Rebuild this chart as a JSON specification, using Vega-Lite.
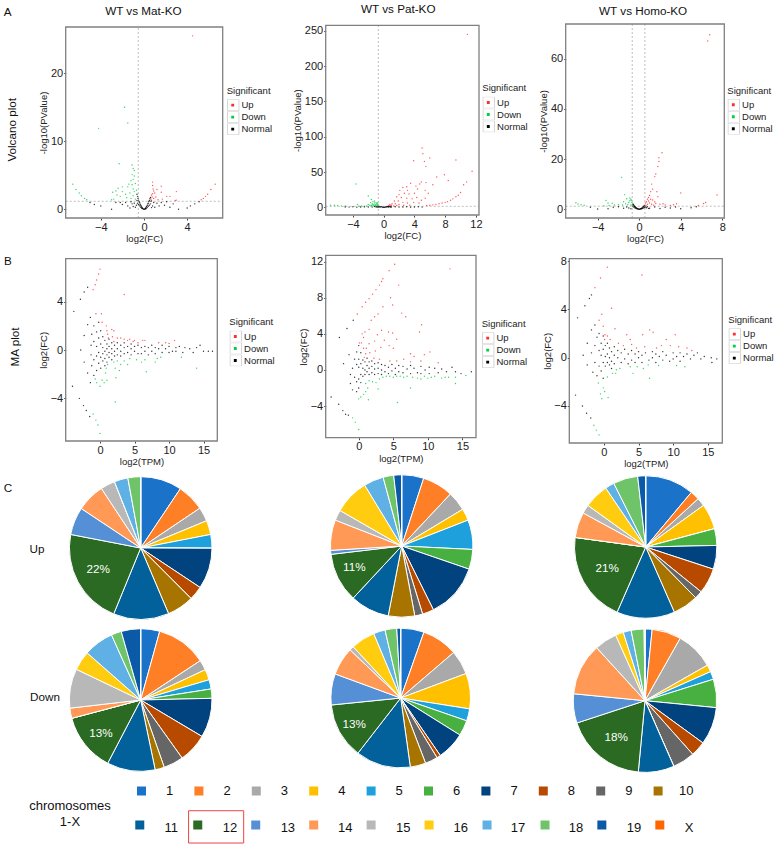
{"$schema":"https://vega.github.io/schema/vega-lite/v6.json","width":775,"height":848,"autosize":"none","padding":0,"background":"white",
"config":{"view":{"stroke":null},"range":{"category":["#1a73c9","#ff7f27","#a9a9a9","#ffc000","#1ea0dd","#47b040","#00437e","#b84a00","#666666","#a77400","#02619a","#2a6a22","#5590d6","#ff9955","#b8b8b8","#ffcc0f","#5eb0e5","#6fc46a","#0a5aa8","#ff6600"]},
"axis":{"grid":false,"domain":false,"tickColor":"#444","tickSize":2,"labelFont":"Liberation Sans","labelFontSize":11,"labelColor":"#222","titleFont":"Liberation Sans","titleFontSize":9.5,"titleFontWeight":"normal","titleColor":"#222","labelPadding":1,"titlePadding":1.5,"labelOverlap":false,"labelFlush":false},
"legend":{"titleFont":"Liberation Sans","labelFont":"Liberation Sans","titleFontSize":9.5,"labelFontSize":9.5,"titleFontWeight":"normal","titleColor":"#222","labelColor":"#222","rowPadding":0,"clipHeight":11.6,"labelOffset":2.8,"titlePadding":4,"orient":"none"},
"text":{"font":"Liberation Sans","fontSize":11.7,"color":"#111","baseline":"middle","align":"center"}},
"datasets":{"keys":[{"k":"k1"},{"k":"k2"},{"k":"k3"}],
"v1":[{"x":4.5,"y":25.5,"s":"Up"},{"x":6.6,"y":3.7,"s":"Up"},{"x":6.2,"y":2.9,"s":"Up"},{"x":5.9,"y":2.2,"s":"Up"},{"x":5.7,"y":1.9,"s":"Up"},{"x":5.5,"y":1.6,"s":"Up"},{"x":5.3,"y":1.4,"s":"Up"},{"x":3,"y":2.6,"s":"Up"},{"x":2.9,"y":1.3,"s":"Up"},{"x":2.4,"y":1.9,"s":"Up"},{"x":2.1,"y":1.9,"s":"Up"},{"x":1.6,"y":3.4,"s":"Up"},{"x":1.6,"y":2.5,"s":"Up"},{"x":1.2,"y":2.9,"s":"Up"},{"x":1.1,"y":1.8,"s":"Up"},{"x":0.8,"y":4,"s":"Up"},{"x":0.8,"y":3.5,"s":"Up"},{"x":0.85,"y":3,"s":"Up"},{"x":0.9,"y":2.7,"s":"Up"},{"x":0.8,"y":2.3,"s":"Up"},{"x":0.7,"y":2.1,"s":"Up"},{"x":0.75,"y":1.8,"s":"Up"},{"x":0.65,"y":1.5,"s":"Up"},{"x":1,"y":2.4,"s":"Up"},{"x":0.9,"y":1.6,"s":"Up"},{"x":1.3,"y":1.4,"s":"Up"},{"x":1.7,"y":1.5,"s":"Up"},{"x":3,"y":1.35,"s":"Up"},{"x":0.7,"y":1.3,"s":"Up"},
{"x":-1.8,"y":15,"s":"Down"},{"x":-1.5,"y":12.7,"s":"Down"},{"x":-4.2,"y":11.9,"s":"Down"},{"x":-2.3,"y":6.7,"s":"Down"},{"x":-1.1,"y":6.5,"s":"Down"},{"x":-1,"y":6,"s":"Down"},{"x":-0.9,"y":5.7,"s":"Down"},{"x":-1.1,"y":5.1,"s":"Down"},{"x":-0.9,"y":4.9,"s":"Down"},{"x":-1,"y":4.4,"s":"Down"},{"x":-1.2,"y":4.2,"s":"Down"},{"x":-0.8,"y":3.8,"s":"Down"},{"x":-1.4,"y":3.7,"s":"Down"},{"x":-1.5,"y":3.3,"s":"Down"},{"x":-1.1,"y":3.6,"s":"Down"},{"x":-2,"y":3.3,"s":"Down"},{"x":-2.4,"y":3.1,"s":"Down"},{"x":-2.6,"y":2.7,"s":"Down"},{"x":-2.5,"y":2.1,"s":"Down"},{"x":-2.9,"y":2.5,"s":"Down"},{"x":-2,"y":2.6,"s":"Down"},{"x":-1.7,"y":2.2,"s":"Down"},{"x":-1.3,"y":2.4,"s":"Down"},{"x":-0.9,"y":2.6,"s":"Down"},{"x":-1,"y":3,"s":"Down"},{"x":-0.7,"y":2.8,"s":"Down"},{"x":-1.6,"y":1.7,"s":"Down"},{"x":-2.2,"y":1.9,"s":"Down"},{"x":-2.8,"y":1.5,"s":"Down"},{"x":-3,"y":1.4,"s":"Down"},{"x":-1.2,"y":1.6,"s":"Down"},{"x":-0.8,"y":1.5,"s":"Down"},{"x":-1,"y":2,"s":"Down"},{"x":-6.6,"y":3.7,"s":"Down"},{"x":-6.3,"y":2.9,"s":"Down"},{"x":-6,"y":2.4,"s":"Down"},{"x":-5.8,"y":2,"s":"Down"},{"x":-5.5,"y":1.6,"s":"Down"},{"x":-5.3,"y":1.4,"s":"Down"},
{"x":-5,"y":1,"s":"Normal"},{"x":-4.6,"y":0.7,"s":"Normal"},{"x":-4,"y":0.5,"s":"Normal"},{"x":-3,"y":0,"s":"Normal"},{"x":-2.6,"y":1,"s":"Normal"},{"x":-2.2,"y":1,"s":"Normal"},{"x":-2,"y":0.7,"s":"Normal"},{"x":-1.7,"y":1,"s":"Normal"},{"x":-1.5,"y":0.5,"s":"Normal"},{"x":-1.2,"y":1.1,"s":"Normal"},{"x":-1,"y":0.4,"s":"Normal"},{"x":-0.9,"y":0.9,"s":"Normal"},{"x":-0.8,"y":0.3,"s":"Normal"},{"x":-1.3,"y":0.2,"s":"Normal"},{"x":-1.1,"y":0.8,"s":"Normal"},{"x":-0.7,"y":0.6,"s":"Normal"},{"x":1,"y":0.3,"s":"Normal"},{"x":1.2,"y":0.9,"s":"Normal"},{"x":1.4,"y":0.5,"s":"Normal"},{"x":1.6,"y":1,"s":"Normal"},{"x":1.9,"y":0.6,"s":"Normal"},{"x":2.1,"y":1.1,"s":"Normal"},{"x":2.4,"y":0.3,"s":"Normal"},{"x":2.7,"y":0.8,"s":"Normal"},{"x":3.2,"y":0,"s":"Normal"},{"x":4,"y":0.2,"s":"Normal"},{"x":4.3,"y":0.5,"s":"Normal"},{"x":4.7,"y":0.8,"s":"Normal"},{"x":5.1,"y":1.1,"s":"Normal"},{"x":0.8,"y":0.5,"s":"Normal"},{"x":0.9,"y":1,"s":"Normal"},{"x":0.7,"y":0.25,"s":"Normal"},
{"x":-0.05,"y":0.03,"s":"Normal"},{"x":-0.1,"y":0.1,"s":"Normal"},{"x":-0.15,"y":0.2,"s":"Normal"},{"x":-0.2,"y":0.3,"s":"Normal"},{"x":-0.25,"y":0.45,"s":"Normal"},{"x":-0.3,"y":0.6,"s":"Normal"},{"x":-0.35,"y":0.75,"s":"Normal"},{"x":-0.4,"y":0.95,"s":"Normal"},{"x":-0.45,"y":1.1,"s":"Normal"},{"x":-0.5,"y":1.35,"s":"Normal"},{"x":-0.55,"y":1.6,"s":"Normal"},{"x":-0.6,"y":1.9,"s":"Normal"},{"x":-0.65,"y":2.2,"s":"Normal"},{"x":-0.15,"y":0.1,"s":"Normal"},{"x":-0.2,"y":0.15,"s":"Normal"},{"x":-0.3,"y":0.3,"s":"Normal"},{"x":-0.4,"y":0.5,"s":"Normal"},{"x":-0.5,"y":0.7,"s":"Normal"},{"x":-0.6,"y":0.9,"s":"Normal"},{"x":-0.65,"y":1.3,"s":"Normal"},{"x":0.05,"y":0.02,"s":"Normal"},{"x":0.1,"y":0.08,"s":"Normal"},{"x":0.15,"y":0.2,"s":"Normal"},{"x":0.2,"y":0.32,"s":"Normal"},{"x":0.25,"y":0.4,"s":"Normal"},{"x":0.3,"y":0.6,"s":"Normal"},{"x":0.35,"y":0.8,"s":"Normal"},{"x":0.4,"y":0.9,"s":"Normal"},{"x":0.45,"y":1.15,"s":"Normal"},{"x":0.5,"y":1.3,"s":"Normal"},{"x":0.55,"y":1.55,"s":"Normal"},{"x":0.6,"y":1.75,"s":"Normal"},{"x":0.65,"y":1.2,"s":"Normal"},{"x":0.15,"y":0.08,"s":"Normal"},{"x":0.2,"y":0.12,"s":"Normal"},{"x":0.3,"y":0.25,"s":"Normal"},{"x":0.4,"y":0.45,"s":"Normal"},{"x":0.5,"y":0.6,"s":"Normal"},{"x":0.6,"y":0.8,"s":"Normal"},{"x":0,"y":0,"s":"Normal"}],
"v2":[{"x":10.9,"y":245,"s":"Up"},{"x":11.5,"y":51,"s":"Up"},{"x":9.4,"y":67,"s":"Up"},{"x":6,"y":70,"s":"Up"},{"x":5.1,"y":76,"s":"Up"},{"x":5,"y":84,"s":"Up"},{"x":5.3,"y":65,"s":"Up"},{"x":5.5,"y":58,"s":"Up"},{"x":3.9,"y":66,"s":"Up"},{"x":6.9,"y":43,"s":"Up"},{"x":7.9,"y":46,"s":"Up"},{"x":8.4,"y":38,"s":"Up"},{"x":10.8,"y":36,"s":"Up"},{"x":10.4,"y":32,"s":"Up"},{"x":10,"y":21,"s":"Up"},{"x":9.7,"y":17,"s":"Up"},{"x":9.4,"y":15,"s":"Up"},{"x":9,"y":12,"s":"Up"},{"x":8.7,"y":10,"s":"Up"},{"x":8.3,"y":8,"s":"Up"},{"x":8,"y":7,"s":"Up"},{"x":7.6,"y":6,"s":"Up"},{"x":7.2,"y":5,"s":"Up"},{"x":6.8,"y":4,"s":"Up"},{"x":6.4,"y":3.5,"s":"Up"},{"x":6,"y":3,"s":"Up"},{"x":5.6,"y":2.5,"s":"Up"},{"x":4.9,"y":36,"s":"Up"},{"x":5.5,"y":35,"s":"Up"},{"x":4.7,"y":33,"s":"Up"},{"x":3.5,"y":34,"s":"Up"},{"x":4.2,"y":30,"s":"Up"},{"x":3,"y":29,"s":"Up"},{"x":2.5,"y":28,"s":"Up"},{"x":2.1,"y":24,"s":"Up"},{"x":3.1,"y":24,"s":"Up"},{"x":4.4,"y":26,"s":"Up"},{"x":5.4,"y":24,"s":"Up"},{"x":5.8,"y":20,"s":"Up"},{"x":6.4,"y":32,"s":"Up"},{"x":4,"y":20,"s":"Up"},{"x":3.3,"y":19,"s":"Up"},{"x":2.7,"y":20,"s":"Up"},{"x":2,"y":18,"s":"Up"},{"x":1.7,"y":15,"s":"Up"},{"x":2.3,"y":14,"s":"Up"},{"x":3,"y":13,"s":"Up"},{"x":3.7,"y":12,"s":"Up"},{"x":4.3,"y":14,"s":"Up"},{"x":4.9,"y":10,"s":"Up"},{"x":5.4,"y":13,"s":"Up"},{"x":1.4,"y":9,"s":"Up"},{"x":1.9,"y":9,"s":"Up"},{"x":2.5,"y":7,"s":"Up"},{"x":3.1,"y":6,"s":"Up"},{"x":3.9,"y":7,"s":"Up"},{"x":4.6,"y":6,"s":"Up"},{"x":1.1,"y":5,"s":"Up"},{"x":1.5,"y":5,"s":"Up"},{"x":2,"y":4,"s":"Up"},{"x":2.6,"y":3,"s":"Up"},{"x":3.4,"y":3,"s":"Up"},{"x":1,"y":3,"s":"Up"},{"x":0.9,"y":2,"s":"Up"},{"x":0.7,"y":2.5,"s":"Up"},{"x":0.6,"y":1.5,"s":"Up"},{"x":1.3,"y":2,"s":"Up"},{"x":1.7,"y":2.5,"s":"Up"},{"x":0.8,"y":4,"s":"Up"},
{"x":-3.6,"y":33,"s":"Down"},{"x":-2,"y":16,"s":"Down"},{"x":-1.6,"y":11,"s":"Down"},{"x":-1.4,"y":8,"s":"Down"},{"x":-1.7,"y":7,"s":"Down"},{"x":-1.2,"y":6,"s":"Down"},{"x":-1.5,"y":5,"s":"Down"},{"x":-1.1,"y":4,"s":"Down"},{"x":-0.9,"y":5,"s":"Down"},{"x":-1.3,"y":3,"s":"Down"},{"x":-0.8,"y":3,"s":"Down"},{"x":-1,"y":2,"s":"Down"},{"x":-1.8,"y":3,"s":"Down"},{"x":-2.2,"y":2,"s":"Down"},{"x":-0.7,"y":2,"s":"Down"},{"x":-3.4,"y":4,"s":"Down"},{"x":-2.9,"y":2,"s":"Down"},{"x":-3.2,"y":1.5,"s":"Down"},{"x":-2.5,"y":1.5,"s":"Down"},{"x":-6.9,"y":3,"s":"Down"},{"x":-6.4,"y":3,"s":"Down"},{"x":-6,"y":2.5,"s":"Down"},{"x":-5.5,"y":2,"s":"Down"},{"x":-5,"y":2,"s":"Down"},{"x":-1.5,"y":1.8,"s":"Down"},{"x":-2,"y":4,"s":"Down"},{"x":-1.2,"y":9,"s":"Down"},{"x":-1,"y":7,"s":"Down"},{"x":-0.8,"y":6,"s":"Down"},{"x":-1.4,"y":4,"s":"Down"},{"x":-1.1,"y":2.5,"s":"Down"},{"x":-0.9,"y":3.5,"s":"Down"},{"x":-1.6,"y":2.5,"s":"Down"},{"x":-0.75,"y":4,"s":"Down"},
{"x":-5,"y":0.5,"s":"Normal"},{"x":-4.5,"y":0.3,"s":"Normal"},{"x":-4,"y":0.8,"s":"Normal"},{"x":-3.5,"y":0.2,"s":"Normal"},{"x":-3,"y":0.4,"s":"Normal"},{"x":-2.5,"y":0.6,"s":"Normal"},{"x":-2,"y":0.5,"s":"Normal"},{"x":-1.5,"y":0.3,"s":"Normal"},{"x":-1,"y":0.6,"s":"Normal"},{"x":-0.7,"y":0.8,"s":"Normal"},{"x":-0.4,"y":0.5,"s":"Normal"},{"x":-0.2,"y":0.3,"s":"Normal"},{"x":0,"y":0.1,"s":"Normal"},{"x":0.2,"y":0.2,"s":"Normal"},{"x":0.3,"y":0.8,"s":"Normal"},{"x":0.4,"y":0.5,"s":"Normal"},{"x":0.5,"y":1,"s":"Normal"},{"x":0.6,"y":0.4,"s":"Normal"},{"x":0.1,"y":0.05,"s":"Normal"},{"x":-0.1,"y":0.1,"s":"Normal"},{"x":-0.3,"y":1,"s":"Normal"},{"x":-0.5,"y":1.2,"s":"Normal"},{"x":0.55,"y":1.3,"s":"Normal"},{"x":1,"y":0.5,"s":"Normal"},{"x":1.5,"y":0.8,"s":"Normal"},{"x":2,"y":0.3,"s":"Normal"},{"x":2.5,"y":0.4,"s":"Normal"},{"x":3,"y":0.7,"s":"Normal"},{"x":3.5,"y":0.2,"s":"Normal"},{"x":4,"y":0.5,"s":"Normal"},{"x":4.5,"y":0.8,"s":"Normal"},{"x":5,"y":0.3,"s":"Normal"},{"x":-0.6,"y":0.2,"s":"Normal"},{"x":-0.8,"y":0.3,"s":"Normal"},{"x":0.7,"y":0.7,"s":"Normal"},{"x":0.8,"y":1.1,"s":"Normal"},{"x":0.9,"y":0.4,"s":"Normal"},{"x":-0.9,"y":0.9,"s":"Normal"},{"x":-1.2,"y":1.1,"s":"Normal"}],
"v3":[{"x":6.8,"y":69.5,"s":"Up"},{"x":6.6,"y":67,"s":"Up"},{"x":2.2,"y":22.5,"s":"Up"},{"x":1.9,"y":20.5,"s":"Up"},{"x":1.9,"y":19,"s":"Up"},{"x":1.8,"y":17,"s":"Up"},{"x":1.6,"y":14,"s":"Up"},{"x":1.5,"y":13,"s":"Up"},{"x":1.2,"y":10,"s":"Up"},{"x":1.3,"y":8,"s":"Up"},{"x":1.1,"y":7,"s":"Up"},{"x":1.7,"y":7,"s":"Up"},{"x":4,"y":6.5,"s":"Up"},{"x":7.5,"y":5.7,"s":"Up"},{"x":1.8,"y":5,"s":"Up"},{"x":1,"y":5.5,"s":"Up"},{"x":0.9,"y":4.7,"s":"Up"},{"x":1.1,"y":4,"s":"Up"},{"x":0.8,"y":4,"s":"Up"},{"x":0.9,"y":3.3,"s":"Up"},{"x":1.3,"y":3.7,"s":"Up"},{"x":1.5,"y":3,"s":"Up"},{"x":0.7,"y":3,"s":"Up"},{"x":1,"y":2.5,"s":"Up"},{"x":1.2,"y":2,"s":"Up"},{"x":0.6,"y":2.5,"s":"Up"},{"x":0.8,"y":2,"s":"Up"},{"x":1.6,"y":2.3,"s":"Up"},{"x":2,"y":2,"s":"Up"},{"x":2.3,"y":2.2,"s":"Up"},{"x":2.5,"y":1.7,"s":"Up"},{"x":3.6,"y":2.2,"s":"Up"},{"x":3.3,"y":1.8,"s":"Up"},{"x":3,"y":1.5,"s":"Up"},{"x":1.4,"y":1.6,"s":"Up"},{"x":6.4,"y":2.7,"s":"Up"},{"x":6.2,"y":2.3,"s":"Up"},{"x":5.7,"y":1.5,"s":"Up"},{"x":0.65,"y":1.5,"s":"Up"},
{"x":-1.7,"y":12.7,"s":"Down"},{"x":-1.4,"y":5.8,"s":"Down"},{"x":-0.9,"y":4.5,"s":"Down"},{"x":-0.8,"y":4,"s":"Down"},{"x":-0.9,"y":3.4,"s":"Down"},{"x":-0.75,"y":3.6,"s":"Down"},{"x":-1.2,"y":4.2,"s":"Down"},{"x":-1.5,"y":3,"s":"Down"},{"x":-1,"y":2.7,"s":"Down"},{"x":-1.3,"y":2.2,"s":"Down"},{"x":-0.7,"y":2.7,"s":"Down"},{"x":-1.1,"y":1.8,"s":"Down"},{"x":-1.6,"y":1.7,"s":"Down"},{"x":-2,"y":1.8,"s":"Down"},{"x":-3.2,"y":3.5,"s":"Down"},{"x":-3,"y":2.5,"s":"Down"},{"x":-2.6,"y":2.4,"s":"Down"},{"x":-2.4,"y":1.7,"s":"Down"},{"x":-6.1,"y":2.6,"s":"Down"},{"x":-5.9,"y":2.1,"s":"Down"},{"x":-5.6,"y":1.8,"s":"Down"},{"x":-5.3,"y":1.6,"s":"Down"},{"x":-0.8,"y":1.7,"s":"Down"},{"x":-0.65,"y":1.6,"s":"Down"},{"x":-2.9,"y":1.5,"s":"Down"},{"x":-3.4,"y":1.4,"s":"Down"},
{"x":-4.7,"y":0.8,"s":"Normal"},{"x":-4,"y":0.1,"s":"Normal"},{"x":-3,"y":0.2,"s":"Normal"},{"x":-2.5,"y":0.8,"s":"Normal"},{"x":-2,"y":1,"s":"Normal"},{"x":-1.5,"y":0.4,"s":"Normal"},{"x":-1.2,"y":0.9,"s":"Normal"},{"x":-1,"y":0.5,"s":"Normal"},{"x":-0.8,"y":0.2,"s":"Normal"},{"x":1,"y":0.4,"s":"Normal"},{"x":1.5,"y":0.9,"s":"Normal"},{"x":2,"y":0.3,"s":"Normal"},{"x":2.5,"y":0.8,"s":"Normal"},{"x":3,"y":0.5,"s":"Normal"},{"x":3.5,"y":0.9,"s":"Normal"},{"x":4,"y":0.2,"s":"Normal"},{"x":5,"y":0.6,"s":"Normal"},{"x":5.5,"y":1,"s":"Normal"},{"x":0,"y":0,"s":"Normal"},{"x":-0.05,"y":0.05,"s":"Normal"},{"x":-0.1,"y":0.12,"s":"Normal"},{"x":-0.15,"y":0.2,"s":"Normal"},{"x":-0.2,"y":0.3,"s":"Normal"},{"x":-0.25,"y":0.45,"s":"Normal"},{"x":-0.3,"y":0.6,"s":"Normal"},{"x":-0.35,"y":0.8,"s":"Normal"},{"x":-0.4,"y":1,"s":"Normal"},{"x":-0.45,"y":1.2,"s":"Normal"},{"x":-0.5,"y":1.5,"s":"Normal"},{"x":-0.55,"y":1.8,"s":"Normal"},{"x":-0.6,"y":2.1,"s":"Normal"},{"x":-0.2,"y":0.15,"s":"Normal"},{"x":-0.3,"y":0.3,"s":"Normal"},{"x":-0.4,"y":0.5,"s":"Normal"},{"x":-0.5,"y":0.8,"s":"Normal"},{"x":-0.6,"y":1.1,"s":"Normal"},{"x":0.05,"y":0.04,"s":"Normal"},{"x":0.1,"y":0.1,"s":"Normal"},{"x":0.15,"y":0.18,"s":"Normal"},{"x":0.2,"y":0.28,"s":"Normal"},{"x":0.25,"y":0.4,"s":"Normal"},{"x":0.3,"y":0.55,"s":"Normal"},{"x":0.35,"y":0.75,"s":"Normal"},{"x":0.4,"y":0.95,"s":"Normal"},{"x":0.45,"y":1.15,"s":"Normal"},{"x":0.5,"y":1.4,"s":"Normal"},{"x":0.2,"y":0.14,"s":"Normal"},{"x":0.3,"y":0.25,"s":"Normal"},{"x":0.4,"y":0.45,"s":"Normal"},{"x":0.5,"y":0.7,"s":"Normal"},{"x":0.6,"y":0.9,"s":"Normal"},{"x":0.7,"y":0.6,"s":"Normal"},{"x":0.8,"y":1,"s":"Normal"},{"x":0.9,"y":0.3,"s":"Normal"}],
"m1":[{"x":0,"y":6.7,"s":"Up"},{"x":-0.2,"y":6.3,"s":"Up"},{"x":-0.5,"y":5.8,"s":"Up"},{"x":-0.7,"y":5.4,"s":"Up"},{"x":-1,"y":5,"s":"Up"},{"x":3.5,"y":4.6,"s":"Up"},{"x":-0.6,"y":3,"s":"Up"},{"x":0.2,"y":3,"s":"Up"},{"x":0.3,"y":2.3,"s":"Up"},{"x":1,"y":1.6,"s":"Up"},{"x":1.1,"y":1.3,"s":"Up"},{"x":1.7,"y":1.7,"s":"Up"},{"x":2,"y":1.6,"s":"Up"},{"x":1.2,"y":1,"s":"Up"},{"x":1.8,"y":1.1,"s":"Up"},{"x":2.5,"y":1,"s":"Up"},{"x":3,"y":1,"s":"Up"},{"x":3.5,"y":0.9,"s":"Up"},{"x":4,"y":0.8,"s":"Up"},{"x":4.3,"y":0.9,"s":"Up"},{"x":4.8,"y":0.7,"s":"Up"},{"x":5,"y":0.8,"s":"Up"},{"x":5.5,"y":0.6,"s":"Up"},{"x":6.2,"y":0.8,"s":"Up"},{"x":6.5,"y":0.8,"s":"Up"},{"x":8.5,"y":0.6,"s":"Up"},{"x":9.5,"y":0.6,"s":"Up"},{"x":10,"y":0.55,"s":"Up"},{"x":10.8,"y":0.8,"s":"Up"},{"x":0.9,"y":2,"s":"Up"},{"x":2,"y":0.7,"s":"Up"},
{"x":0,"y":-6.9,"s":"Down"},{"x":-0.3,"y":-6.2,"s":"Down"},{"x":-0.6,"y":-5.8,"s":"Down"},{"x":-1,"y":-5.3,"s":"Down"},{"x":2.2,"y":-4.3,"s":"Down"},{"x":0,"y":-3,"s":"Down"},{"x":-0.5,"y":-2.7,"s":"Down"},{"x":0.3,"y":-2.5,"s":"Down"},{"x":0.6,"y":-2.7,"s":"Down"},{"x":-0.7,"y":-2.4,"s":"Down"},{"x":1,"y":-2.5,"s":"Down"},{"x":0.8,"y":-1.9,"s":"Down"},{"x":0.9,"y":-1.5,"s":"Down"},{"x":1.1,"y":-1.2,"s":"Down"},{"x":2.3,"y":-2.3,"s":"Down"},{"x":2.2,"y":-1.5,"s":"Down"},{"x":2.8,"y":-1.7,"s":"Down"},{"x":3,"y":-1.2,"s":"Down"},{"x":2,"y":-1,"s":"Down"},{"x":3.5,"y":-0.9,"s":"Down"},{"x":4,"y":-1.2,"s":"Down"},{"x":4.3,"y":-0.7,"s":"Down"},{"x":5.3,"y":-0.8,"s":"Down"},{"x":6,"y":-1,"s":"Down"},{"x":6.5,"y":-0.8,"s":"Down"},{"x":6.7,"y":-1.8,"s":"Down"},{"x":8,"y":-1,"s":"Down"},{"x":8.3,"y":-0.7,"s":"Down"},{"x":8.8,"y":-0.6,"s":"Down"},{"x":11.8,"y":-0.6,"s":"Down"},{"x":14,"y":-1.5,"s":"Down"},{"x":2.5,"y":-0.9,"s":"Down"},
{"x":-3.8,"y":3.2,"s":"Normal"},{"x":-2.85,"y":4.2,"s":"Normal"},{"x":-2.3,"y":4.8,"s":"Normal"},{"x":-1.8,"y":5.2,"s":"Normal"},{"x":-4,"y":-3,"s":"Normal"},{"x":-3,"y":-4,"s":"Normal"},{"x":-2.4,"y":-4.6,"s":"Normal"},{"x":-2,"y":-5,"s":"Normal"},{"x":-1.5,"y":-5.5,"s":"Normal"},{"x":-2.8,"y":0,"s":"Normal"},{"x":-2.3,"y":1.2,"s":"Normal"},{"x":-2.3,"y":-1,"s":"Normal"},{"x":-1.8,"y":2.1,"s":"Normal"},{"x":-1.8,"y":-1.9,"s":"Normal"},{"x":-1.4,"y":2.7,"s":"Normal"},{"x":-1.4,"y":-2.7,"s":"Normal"},{"x":-1.3,"y":0.4,"s":"Normal"},{"x":-1.3,"y":-0.4,"s":"Normal"},{"x":-1.2,"y":1.3,"s":"Normal"},{"x":-1.2,"y":-1.3,"s":"Normal"},{"x":-0.9,"y":2,"s":"Normal"},{"x":-0.9,"y":0.7,"s":"Normal"},{"x":-0.9,"y":-0.8,"s":"Normal"},{"x":-0.9,"y":-2.1,"s":"Normal"},{"x":-0.5,"y":1.5,"s":"Normal"},{"x":-0.5,"y":0.3,"s":"Normal"},{"x":-0.5,"y":-0.5,"s":"Normal"},{"x":-0.5,"y":-1.7,"s":"Normal"},{"x":-0.2,"y":2.3,"s":"Normal"},{"x":-0.2,"y":1,"s":"Normal"},{"x":-0.2,"y":-0.2,"s":"Normal"},{"x":-0.2,"y":-1.1,"s":"Normal"},{"x":0.1,"y":1.6,"s":"Normal"},{"x":0.1,"y":0.5,"s":"Normal"},{"x":0.1,"y":-0.6,"s":"Normal"},{"x":0.1,"y":-1.5,"s":"Normal"},{"x":0.4,"y":1.1,"s":"Normal"},{"x":0.4,"y":0.2,"s":"Normal"},{"x":0.4,"y":-0.3,"s":"Normal"},{"x":0.4,"y":-0.9,"s":"Normal"},{"x":0.7,"y":0.8,"s":"Normal"},{"x":0.7,"y":-0.1,"s":"Normal"},{"x":0.7,"y":-0.7,"s":"Normal"},{"x":0.7,"y":-1.3,"s":"Normal"},{"x":1,"y":0.5,"s":"Normal"},{"x":1,"y":0.1,"s":"Normal"},{"x":1,"y":-0.4,"s":"Normal"},{"x":1,"y":-1,"s":"Normal"},{"x":1.3,"y":0.9,"s":"Normal"},{"x":1.3,"y":0.3,"s":"Normal"},{"x":1.3,"y":-0.2,"s":"Normal"},{"x":1.3,"y":-0.6,"s":"Normal"},{"x":1.7,"y":0.6,"s":"Normal"},{"x":1.7,"y":0.1,"s":"Normal"},{"x":1.7,"y":-0.3,"s":"Normal"},{"x":1.7,"y":-0.8,"s":"Normal"},{"x":2.1,"y":0.4,"s":"Normal"},{"x":2.1,"y":-0.1,"s":"Normal"},{"x":2.1,"y":-0.5,"s":"Normal"},{"x":2.5,"y":0.6,"s":"Normal"},{"x":2.5,"y":0.1,"s":"Normal"},{"x":2.5,"y":-0.4,"s":"Normal"},{"x":3,"y":0.4,"s":"Normal"},{"x":3,"y":-0.1,"s":"Normal"},{"x":3,"y":-0.5,"s":"Normal"},{"x":3.5,"y":0.6,"s":"Normal"},{"x":3.5,"y":0.2,"s":"Normal"},{"x":3.5,"y":-0.3,"s":"Normal"},{"x":4,"y":0.3,"s":"Normal"},{"x":4,"y":-0.2,"s":"Normal"},{"x":4.5,"y":0.5,"s":"Normal"},{"x":4.5,"y":0.1,"s":"Normal"},{"x":4.5,"y":-0.4,"s":"Normal"},{"x":5,"y":0.3,"s":"Normal"},{"x":5,"y":-0.1,"s":"Normal"},{"x":5.5,"y":0.4,"s":"Normal"},{"x":5.5,"y":-0.3,"s":"Normal"},{"x":6,"y":0.2,"s":"Normal"},{"x":6,"y":-0.3,"s":"Normal"},{"x":6.5,"y":0.3,"s":"Normal"},{"x":6.5,"y":-0.1,"s":"Normal"},{"x":7,"y":0.2,"s":"Normal"},{"x":7,"y":-0.4,"s":"Normal"},{"x":7.5,"y":0.4,"s":"Normal"},{"x":7.5,"y":-0.1,"s":"Normal"},{"x":8,"y":0.2,"s":"Normal"},{"x":8,"y":-0.3,"s":"Normal"},{"x":8.5,"y":0.1,"s":"Normal"},{"x":9,"y":0.4,"s":"Normal"},{"x":9,"y":-0.2,"s":"Normal"},{"x":9.5,"y":0.1,"s":"Normal"},{"x":10,"y":0.3,"s":"Normal"},{"x":10,"y":-0.2,"s":"Normal"},{"x":10.5,"y":-0.1,"s":"Normal"},{"x":11,"y":0.2,"s":"Normal"},{"x":11,"y":-0.1,"s":"Normal"},{"x":11.5,"y":0.3,"s":"Normal"},{"x":12,"y":-0.2,"s":"Normal"},{"x":12.3,"y":0.2,"s":"Normal"},{"x":13,"y":0.1,"s":"Normal"},{"x":13.5,"y":-0.2,"s":"Normal"},{"x":14,"y":0.2,"s":"Normal"},{"x":14.5,"y":0.4,"s":"Normal"},{"x":15,"y":-0.1,"s":"Normal"},{"x":15.7,"y":-0.1,"s":"Normal"},{"x":16.3,"y":-0.1,"s":"Normal"}],
"m2":[{"x":-0.2,"y":6.2,"s":"Up"},{"x":0.5,"y":7,"s":"Up"},{"x":1,"y":7.5,"s":"Up"},{"x":1.5,"y":7.9,"s":"Up"},{"x":2,"y":8.4,"s":"Up"},{"x":2.5,"y":8.9,"s":"Up"},{"x":3,"y":9.4,"s":"Up"},{"x":3.3,"y":9.8,"s":"Up"},{"x":3.5,"y":10.1,"s":"Up"},{"x":4.4,"y":11,"s":"Up"},{"x":5.2,"y":11.7,"s":"Up"},{"x":13.2,"y":11.2,"s":"Up"},{"x":5.8,"y":9.4,"s":"Up"},{"x":4.6,"y":8,"s":"Up"},{"x":4.9,"y":7.2,"s":"Up"},{"x":3.5,"y":7,"s":"Up"},{"x":2.8,"y":6.2,"s":"Up"},{"x":2.3,"y":5.9,"s":"Up"},{"x":1.8,"y":5.5,"s":"Up"},{"x":1.5,"y":4.5,"s":"Up"},{"x":0.9,"y":4.2,"s":"Up"},{"x":0.7,"y":3.6,"s":"Up"},{"x":0.4,"y":3,"s":"Up"},{"x":0.1,"y":3,"s":"Up"},{"x":0.5,"y":4,"s":"Up"},{"x":6.2,"y":6.3,"s":"Up"},{"x":6.8,"y":5.9,"s":"Up"},{"x":9.1,"y":5,"s":"Up"},{"x":8.8,"y":4.2,"s":"Up"},{"x":4.3,"y":4.2,"s":"Up"},{"x":4.9,"y":4.1,"s":"Up"},{"x":3.3,"y":4.4,"s":"Up"},{"x":2.7,"y":3.9,"s":"Up"},{"x":2.3,"y":3.2,"s":"Up"},{"x":1.5,"y":2.9,"s":"Up"},{"x":1.1,"y":2.4,"s":"Up"},{"x":0.7,"y":2.4,"s":"Up"},{"x":3.7,"y":3.3,"s":"Up"},{"x":4.4,"y":2.7,"s":"Up"},{"x":5.5,"y":3.4,"s":"Up"},{"x":5,"y":2.4,"s":"Up"},{"x":3.2,"y":2.5,"s":"Up"},{"x":2.4,"y":2.1,"s":"Up"},{"x":1.6,"y":1.9,"s":"Up"},{"x":1,"y":1.8,"s":"Up"},{"x":0.8,"y":1.4,"s":"Up"},{"x":7.5,"y":1.8,"s":"Up"},{"x":8,"y":1.5,"s":"Up"},{"x":9.5,"y":1.7,"s":"Up"},{"x":10.3,"y":2,"s":"Up"},{"x":6.5,"y":1.2,"s":"Up"},{"x":5.5,"y":1,"s":"Up"},{"x":4.5,"y":1,"s":"Up"},{"x":3,"y":1.2,"s":"Up"},{"x":2.2,"y":1.3,"s":"Up"},{"x":11.5,"y":0.8,"s":"Up"},{"x":9,"y":1,"s":"Up"},{"x":7.5,"y":0.9,"s":"Up"},
{"x":0,"y":-6.6,"s":"Down"},{"x":-0.5,"y":-5.8,"s":"Down"},{"x":-0.9,"y":-5.3,"s":"Down"},{"x":0,"y":-3.2,"s":"Down"},{"x":0.3,"y":-3,"s":"Down"},{"x":1.4,"y":-3.3,"s":"Down"},{"x":2.8,"y":-2.1,"s":"Down"},{"x":5.6,"y":-3.6,"s":"Down"},{"x":1.3,"y":-2,"s":"Down"},{"x":1,"y":-2.4,"s":"Down"},{"x":0.7,"y":-2.7,"s":"Down"},{"x":2,"y":-1.3,"s":"Down"},{"x":2.5,"y":-1.4,"s":"Down"},{"x":3,"y":-1,"s":"Down"},{"x":3.5,"y":-0.8,"s":"Down"},{"x":4,"y":-0.7,"s":"Down"},{"x":4.5,"y":-0.7,"s":"Down"},{"x":5,"y":-0.8,"s":"Down"},{"x":5.5,"y":-0.7,"s":"Down"},{"x":6,"y":-0.7,"s":"Down"},{"x":6.5,"y":-0.8,"s":"Down"},{"x":7,"y":-0.7,"s":"Down"},{"x":7.5,"y":-2,"s":"Down"},{"x":7.8,"y":-0.8,"s":"Down"},{"x":8.5,"y":-0.9,"s":"Down"},{"x":9,"y":-1,"s":"Down"},{"x":9.5,"y":-0.7,"s":"Down"},{"x":10,"y":-0.9,"s":"Down"},{"x":10.5,"y":-0.8,"s":"Down"},{"x":11,"y":-0.7,"s":"Down"},{"x":12,"y":-0.9,"s":"Down"},{"x":12.5,"y":-0.8,"s":"Down"},{"x":13,"y":-0.8,"s":"Down"},{"x":14,"y":-1.5,"s":"Down"},{"x":14,"y":-0.8,"s":"Down"},{"x":15.5,"y":-0.6,"s":"Down"},{"x":1.5,"y":-1.2,"s":"Down"},{"x":1,"y":-1.5,"s":"Down"},
{"x":-4,"y":-3,"s":"Normal"},{"x":-2.9,"y":-3.8,"s":"Normal"},{"x":-2.3,"y":-4.5,"s":"Normal"},{"x":-1.9,"y":-4.9,"s":"Normal"},{"x":-1.5,"y":-5,"s":"Normal"},{"x":-2.8,"y":3.6,"s":"Normal"},{"x":-1.7,"y":4.6,"s":"Normal"},{"x":-0.8,"y":5.5,"s":"Normal"},{"x":-2.2,"y":0.7,"s":"Normal"},{"x":-1.4,"y":1.7,"s":"Normal"},{"x":-1.2,"y":-0.5,"s":"Normal"},{"x":-1.2,"y":-1.5,"s":"Normal"},{"x":-0.9,"y":0.2,"s":"Normal"},{"x":-0.9,"y":-2.2,"s":"Normal"},{"x":-0.6,"y":1.2,"s":"Normal"},{"x":-0.6,"y":-0.8,"s":"Normal"},{"x":-0.3,"y":2,"s":"Normal"},{"x":-0.3,"y":0.6,"s":"Normal"},{"x":-0.3,"y":-1.3,"s":"Normal"},{"x":-0.3,"y":-2.4,"s":"Normal"},{"x":0,"y":2.7,"s":"Normal"},{"x":0,"y":1.2,"s":"Normal"},{"x":0,"y":0.3,"s":"Normal"},{"x":0,"y":-1,"s":"Normal"},{"x":0,"y":-2,"s":"Normal"},{"x":0.3,"y":1.9,"s":"Normal"},{"x":0.3,"y":0.7,"s":"Normal"},{"x":0.3,"y":-0.5,"s":"Normal"},{"x":0.3,"y":-1.4,"s":"Normal"},{"x":0.6,"y":1.1,"s":"Normal"},{"x":0.6,"y":0.2,"s":"Normal"},{"x":0.6,"y":-0.7,"s":"Normal"},{"x":0.9,"y":0.9,"s":"Normal"},{"x":0.9,"y":0,"s":"Normal"},{"x":0.9,"y":-0.5,"s":"Normal"},{"x":1.2,"y":1.3,"s":"Normal"},{"x":1.2,"y":0.5,"s":"Normal"},{"x":1.2,"y":-0.2,"s":"Normal"},{"x":1.5,"y":0.9,"s":"Normal"},{"x":1.5,"y":0.2,"s":"Normal"},{"x":1.5,"y":-0.5,"s":"Normal"},{"x":1.9,"y":1,"s":"Normal"},{"x":1.9,"y":0.4,"s":"Normal"},{"x":1.9,"y":-0.3,"s":"Normal"},{"x":2.3,"y":0.7,"s":"Normal"},{"x":2.3,"y":0.1,"s":"Normal"},{"x":2.3,"y":-0.5,"s":"Normal"},{"x":2.8,"y":0.8,"s":"Normal"},{"x":2.8,"y":0.2,"s":"Normal"},{"x":2.8,"y":-0.4,"s":"Normal"},{"x":3.3,"y":0.6,"s":"Normal"},{"x":3.3,"y":0,"s":"Normal"},{"x":3.3,"y":-0.5,"s":"Normal"},{"x":3.8,"y":0.5,"s":"Normal"},{"x":3.8,"y":-0.2,"s":"Normal"},{"x":4.3,"y":0.3,"s":"Normal"},{"x":4.3,"y":-0.4,"s":"Normal"},{"x":4.8,"y":0.6,"s":"Normal"},{"x":4.8,"y":-0.1,"s":"Normal"},{"x":5.3,"y":0.2,"s":"Normal"},{"x":5.3,"y":-0.5,"s":"Normal"},{"x":5.8,"y":0.5,"s":"Normal"},{"x":5.8,"y":-0.2,"s":"Normal"},{"x":6.4,"y":0.4,"s":"Normal"},{"x":6.4,"y":-0.3,"s":"Normal"},{"x":7,"y":0.1,"s":"Normal"},{"x":7.5,"y":0.5,"s":"Normal"},{"x":7.5,"y":-0.4,"s":"Normal"},{"x":8,"y":0.2,"s":"Normal"},{"x":8.5,"y":-0.3,"s":"Normal"},{"x":9,"y":0.4,"s":"Normal"},{"x":9,"y":-0.4,"s":"Normal"},{"x":9.6,"y":0,"s":"Normal"},{"x":10.2,"y":0.3,"s":"Normal"},{"x":10.2,"y":-0.4,"s":"Normal"},{"x":11,"y":0.2,"s":"Normal"},{"x":11.5,"y":-0.3,"s":"Normal"},{"x":12,"y":0.1,"s":"Normal"},{"x":12.7,"y":-0.2,"s":"Normal"},{"x":13.5,"y":0.3,"s":"Normal"},{"x":14,"y":-0.2,"s":"Normal"},{"x":14.8,"y":-0.4,"s":"Normal"},{"x":16.3,"y":-0.2,"s":"Normal"}],
"m3":[{"x":0.5,"y":7.5,"s":"Up"},{"x":5.5,"y":6.85,"s":"Up"},{"x":-0.5,"y":6.6,"s":"Up"},{"x":-1.3,"y":5.8,"s":"Up"},{"x":1.1,"y":4.1,"s":"Up"},{"x":-0.3,"y":3.6,"s":"Up"},{"x":-0.7,"y":3.1,"s":"Up"},{"x":-0.1,"y":2.6,"s":"Up"},{"x":0.15,"y":1.9,"s":"Up"},{"x":0.9,"y":1.5,"s":"Up"},{"x":1.6,"y":2.4,"s":"Up"},{"x":3.3,"y":1.9,"s":"Up"},{"x":5.6,"y":1.9,"s":"Up"},{"x":6.6,"y":2.3,"s":"Up"},{"x":7.1,"y":2.1,"s":"Up"},{"x":10.3,"y":1.9,"s":"Up"},{"x":9,"y":1.5,"s":"Up"},{"x":2.1,"y":1.2,"s":"Up"},{"x":2.8,"y":1,"s":"Up"},{"x":4,"y":1.1,"s":"Up"},{"x":4.7,"y":0.8,"s":"Up"},{"x":5.9,"y":0.9,"s":"Up"},{"x":7.6,"y":0.8,"s":"Up"},{"x":8.3,"y":1,"s":"Up"},{"x":9.6,"y":1,"s":"Up"},{"x":10.8,"y":0.9,"s":"Up"},{"x":12,"y":0.8,"s":"Up"},{"x":12.7,"y":0.6,"s":"Up"},{"x":0.1,"y":1.5,"s":"Up"},{"x":0.5,"y":1.8,"s":"Up"},{"x":3.8,"y":1.5,"s":"Up"},
{"x":-0.7,"y":-6.4,"s":"Down"},{"x":-1.1,"y":-6,"s":"Down"},{"x":-1.45,"y":-5.6,"s":"Down"},{"x":0.6,"y":-3.3,"s":"Down"},{"x":-0.3,"y":-3.4,"s":"Down"},{"x":0.1,"y":-2.8,"s":"Down"},{"x":-0.1,"y":-2.5,"s":"Down"},{"x":-0.8,"y":-2.1,"s":"Down"},{"x":-0.5,"y":-3,"s":"Down"},{"x":6.6,"y":-1.7,"s":"Down"},{"x":0.5,"y":-1.6,"s":"Down"},{"x":1.7,"y":-1.3,"s":"Down"},{"x":2.3,"y":-0.9,"s":"Down"},{"x":3.8,"y":-0.75,"s":"Down"},{"x":4.2,"y":-1.3,"s":"Down"},{"x":4.8,"y":-0.75,"s":"Down"},{"x":5.7,"y":-0.9,"s":"Down"},{"x":6.4,"y":-0.6,"s":"Down"},{"x":7.9,"y":-0.65,"s":"Down"},{"x":10.5,"y":-0.65,"s":"Down"},{"x":11.7,"y":-0.75,"s":"Down"},{"x":1.8,"y":-1,"s":"Down"},{"x":1.25,"y":-1.3,"s":"Down"},
{"x":-4.1,"y":-3.1,"s":"Normal"},{"x":-3.1,"y":-4,"s":"Normal"},{"x":-2.5,"y":-4.6,"s":"Normal"},{"x":-1.9,"y":-5,"s":"Normal"},{"x":-3.8,"y":3.3,"s":"Normal"},{"x":-2.75,"y":4.3,"s":"Normal"},{"x":-2.1,"y":4.9,"s":"Normal"},{"x":-1.8,"y":5.2,"s":"Normal"},{"x":-3,"y":0.2,"s":"Normal"},{"x":-2.4,"y":1.2,"s":"Normal"},{"x":-2.4,"y":-0.6,"s":"Normal"},{"x":-1.8,"y":2.3,"s":"Normal"},{"x":-1.8,"y":0.4,"s":"Normal"},{"x":-1.6,"y":-1.2,"s":"Normal"},{"x":-1.3,"y":2.7,"s":"Normal"},{"x":-1.3,"y":1,"s":"Normal"},{"x":-1.3,"y":-0.4,"s":"Normal"},{"x":-1,"y":1.7,"s":"Normal"},{"x":-1,"y":-1.5,"s":"Normal"},{"x":-0.7,"y":2,"s":"Normal"},{"x":-0.7,"y":0.6,"s":"Normal"},{"x":-0.7,"y":-0.7,"s":"Normal"},{"x":-0.4,"y":1.2,"s":"Normal"},{"x":-0.4,"y":0.2,"s":"Normal"},{"x":-0.4,"y":-1.1,"s":"Normal"},{"x":-0.1,"y":1.8,"s":"Normal"},{"x":-0.1,"y":0.7,"s":"Normal"},{"x":-0.1,"y":-0.4,"s":"Normal"},{"x":-0.1,"y":-1.7,"s":"Normal"},{"x":0.2,"y":1,"s":"Normal"},{"x":0.2,"y":0.1,"s":"Normal"},{"x":0.2,"y":-0.7,"s":"Normal"},{"x":0.5,"y":1.2,"s":"Normal"},{"x":0.5,"y":0.3,"s":"Normal"},{"x":0.5,"y":-0.4,"s":"Normal"},{"x":0.8,"y":0.8,"s":"Normal"},{"x":0.8,"y":0,"s":"Normal"},{"x":0.8,"y":-0.6,"s":"Normal"},{"x":1.1,"y":0.5,"s":"Normal"},{"x":1.1,"y":-0.3,"s":"Normal"},{"x":1.1,"y":-0.9,"s":"Normal"},{"x":1.5,"y":0.9,"s":"Normal"},{"x":1.5,"y":0.2,"s":"Normal"},{"x":1.5,"y":-0.5,"s":"Normal"},{"x":2,"y":0.6,"s":"Normal"},{"x":2,"y":0,"s":"Normal"},{"x":2.5,"y":0.4,"s":"Normal"},{"x":2.5,"y":-0.4,"s":"Normal"},{"x":3,"y":0.7,"s":"Normal"},{"x":3,"y":-0.1,"s":"Normal"},{"x":3.5,"y":0.3,"s":"Normal"},{"x":3.5,"y":-0.5,"s":"Normal"},{"x":4,"y":0.6,"s":"Normal"},{"x":4,"y":-0.2,"s":"Normal"},{"x":4.5,"y":0.3,"s":"Normal"},{"x":4.5,"y":-0.4,"s":"Normal"},{"x":5,"y":0.5,"s":"Normal"},{"x":5,"y":0,"s":"Normal"},{"x":5.5,"y":0.2,"s":"Normal"},{"x":5.5,"y":-0.4,"s":"Normal"},{"x":6,"y":0.4,"s":"Normal"},{"x":6.5,"y":-0.2,"s":"Normal"},{"x":7,"y":0.5,"s":"Normal"},{"x":7,"y":0,"s":"Normal"},{"x":7.5,"y":0.3,"s":"Normal"},{"x":7.5,"y":-0.4,"s":"Normal"},{"x":8,"y":0.1,"s":"Normal"},{"x":8.5,"y":0.5,"s":"Normal"},{"x":8.5,"y":-0.2,"s":"Normal"},{"x":9,"y":0.2,"s":"Normal"},{"x":9.5,"y":-0.3,"s":"Normal"},{"x":10,"y":0.4,"s":"Normal"},{"x":10,"y":-0.1,"s":"Normal"},{"x":10.5,"y":0.1,"s":"Normal"},{"x":11,"y":0.4,"s":"Normal"},{"x":11,"y":-0.3,"s":"Normal"},{"x":11.5,"y":0.1,"s":"Normal"},{"x":12,"y":0.3,"s":"Normal"},{"x":12.5,"y":-0.1,"s":"Normal"},{"x":13,"y":0.2,"s":"Normal"},{"x":13.5,"y":0.4,"s":"Normal"},{"x":14,"y":-0.1,"s":"Normal"},{"x":14.5,"y":0.1,"s":"Normal"},{"x":15.5,"y":0,"s":"Normal"},{"x":15.6,"y":-0.4,"s":"Normal"},{"x":16.3,"y":-0.1,"s":"Normal"}],
"pu1":[{"c":1,"v":9.4},{"c":2,"v":6.2},{"c":3,"v":3.2},{"c":4,"v":3.2},{"c":5,"v":3.1},{"c":6,"v":0},{"c":7,"v":9.3},{"c":8,"v":3.2},{"c":9,"v":0},{"c":10,"v":6.1},{"c":11,"v":12.6},{"c":12,"v":21.9},{"c":13,"v":6.3},{"c":14,"v":6.4},{"c":15,"v":3.3},{"c":16,"v":0},{"c":17,"v":3.1},{"c":18,"v":2.9},{"c":19,"v":0},{"c":20,"v":0}],
"pd1":[{"c":1,"v":4.3},{"c":2,"v":11.4},{"c":3,"v":2.3},{"c":4,"v":2.4},{"c":5,"v":2.1},{"c":6,"v":2.1},{"c":7,"v":8.9},{"c":8,"v":6.6},{"c":9,"v":4.5},{"c":10,"v":2.1},{"c":11,"v":10.9},{"c":12,"v":13.2},{"c":13,"v":0},{"c":14,"v":2.3},{"c":15,"v":8.9},{"c":16,"v":4.4},{"c":17,"v":6.8},{"c":18,"v":2.3},{"c":19,"v":4.4},{"c":20,"v":0}],
"pu2":[{"c":1,"v":5},{"c":2,"v":7},{"c":3,"v":4.4},{"c":4,"v":2.7},{"c":5,"v":6.7},{"c":6,"v":4.5},{"c":7,"v":12.4},{"c":8,"v":2.6},{"c":9,"v":1.8},{"c":10,"v":6},{"c":11,"v":8.9},{"c":12,"v":11.2},{"c":13,"v":0.9},{"c":14,"v":6.9},{"c":15,"v":2.4},{"c":16,"v":8},{"c":17,"v":4.5},{"c":18,"v":2.4},{"c":19,"v":1.8},{"c":20,"v":0}],
"pd2":[{"c":1,"v":5.4},{"c":2,"v":8.3},{"c":3,"v":5.6},{"c":4,"v":8.2},{"c":5,"v":2.8},{"c":6,"v":3.6},{"c":7,"v":6.5},{"c":8,"v":0.9},{"c":9,"v":2.9},{"c":10,"v":3.6},{"c":11,"v":12.7},{"c":12,"v":12.9},{"c":13,"v":7.2},{"c":14,"v":6.5},{"c":15,"v":1},{"c":16,"v":5.6},{"c":17,"v":2.7},{"c":18,"v":2.7},{"c":19,"v":0.9},{"c":20,"v":0}],
"pu3":[{"c":1,"v":11.1},{"c":2,"v":2.1},{"c":3,"v":1.9},{"c":4,"v":5.8},{"c":5,"v":0},{"c":6,"v":3.8},{"c":7,"v":5.4},{"c":8,"v":5.8},{"c":9,"v":1.8},{"c":10,"v":5.8},{"c":11,"v":13.2},{"c":12,"v":20.6},{"c":13,"v":0},{"c":14,"v":5.8},{"c":15,"v":2},{"c":16,"v":5.6},{"c":17,"v":2.1},{"c":18,"v":5.6},{"c":19,"v":1.8},{"c":20,"v":0}],
"pd3":[{"c":1,"v":1.6},{"c":2,"v":6.6},{"c":3,"v":8.6},{"c":4,"v":1.6},{"c":5,"v":1.8},{"c":6,"v":6.4},{"c":7,"v":8.5},{"c":8,"v":3.4},{"c":9,"v":5},{"c":10,"v":0},{"c":11,"v":8.1},{"c":12,"v":18.5},{"c":13,"v":6.6},{"c":14,"v":11.7},{"c":15,"v":5.1},{"c":16,"v":1.8},{"c":17,"v":1.8},{"c":18,"v":2.9},{"c":19,"v":0.2},{"c":20,"v":0}]},
"layer":[
{"encoding":{"x":{"field":"x","type":"quantitative","scale":{"domain":[-7.25,7.29],"range":[65.7,222.7],"nice":false,"zero":false},"axis":{"orient":"bottom","offset":-630,"values":[-4,0,4],"title":"log2(FC)"}},"y":{"field":"y","type":"quantitative","scale":{"domain":[-1.28,26.8],"range":[218,27],"nice":false,"zero":false},"axis":{"orient":"left","offset":-65.7,"values":[0,10,20],"title":"-log10(PValue)"}}},
"layer":[
{"data":{"values":[{"x":-0.53,"x2":-0.53,"y":-1.28,"y2":26.8},{"x":-7.25,"x2":7.29,"y":1.18,"y2":1.18}]},"mark":{"type":"rule","color":"#bdbdbd","strokeDash":[2,2],"strokeWidth":1},"encoding":{"x2":{"field":"x2"},"y2":{"field":"y2"}}},
{"data":{"name":"v1"},"mark":{"type":"point","filled":true,"size":2,"opacity":0.8},"encoding":{"color":{"field":"s","type":"nominal","scale":{"domain":["Up","Down","Normal"],"range":["#ff2e2e","#00d040","#000000"]},"legend":{"title":"Significant","legendX":226.7,"legendY":85.8,"symbolType":"M-0.25,-0.25H0.25V0.25H-0.25Z","symbolSize":132,"symbolStrokeWidth":0,"symbolOpacity":1}}}},
{"data":{"name":"keys"},"mark":{"type":"point","size":0,"opacity":0},"encoding":{"shape":{"field":"k","type":"nominal","scale":{"domain":["k1","k2","k3"],"range":["square","square","square"]},"legend":{"title":null,"labelExpr":"''","legendX":226.7,"legendY":99.3,"symbolSize":132,"symbolFillColor":"transparent","symbolStrokeColor":"#d5d5d5","symbolStrokeWidth":1,"symbolOpacity":1}}}},
{"data":{"values":[{"x":-7.25,"x2":7.29,"y":-1.28,"y2":26.8}]},"mark":{"type":"rect","fillOpacity":0,"stroke":"#808080","strokeWidth":1.3},"encoding":{"x2":{"field":"x2"},"y2":{"field":"y2"}}},
{"data":{"values":[{"x":-0.06,"y":29.2,"t":"WT vs Mat-KO"},{"x":-12.62,"y":29.06,"t":"A"}]},"mark":{"type":"text"},"encoding":{"text":{"field":"t"}}},
{"data":{"values":[{"x":-12.19,"y":11.69,"t":"Volcano plot"}]},"mark":{"type":"text","angle":270},"encoding":{"text":{"field":"t"}}}
]},
{"encoding":{"x":{"field":"x","type":"quantitative","scale":{"domain":[-7.54,12.4],"range":[325.7,479],"nice":false,"zero":false},"axis":{"orient":"bottom","offset":-633,"values":[-4,0,4,8,12],"title":"log2(FC)"}},"y":{"field":"y","type":"quantitative","scale":{"domain":[-10.9,257.8],"range":[215,25.3],"nice":false,"zero":false},"axis":{"orient":"left","offset":-325.7,"values":[0,50,100,150,200,250],"title":"-log10(PValue)"}}},
"layer":[
{"data":{"values":[{"x":-0.7,"x2":-0.7,"y":-10.9,"y2":257.8},{"x":-7.54,"x2":12.4,"y":1.4,"y2":1.4}]},"mark":{"type":"rule","color":"#bdbdbd","strokeDash":[2,2],"strokeWidth":1},"encoding":{"x2":{"field":"x2"},"y2":{"field":"y2"}}},
{"data":{"name":"v2"},"mark":{"type":"point","filled":true,"size":2,"opacity":0.8},"encoding":{"color":{"field":"s","type":"nominal","scale":{"domain":["Up","Down","Normal"],"range":["#ff2e2e","#00d040","#000000"]},"legend":{"title":"Significant","legendX":482.3,"legendY":83.2,"symbolType":"M-0.25,-0.25H0.25V0.25H-0.25Z","symbolSize":132,"symbolStrokeWidth":0,"symbolOpacity":1}}}},
{"data":{"name":"keys"},"mark":{"type":"point","size":0,"opacity":0},"encoding":{"shape":{"field":"k","type":"nominal","scale":{"domain":["k1","k2","k3"],"range":["square","square","square"]},"legend":{"title":null,"labelExpr":"''","legendX":482.3,"legendY":96.7,"symbolSize":132,"symbolFillColor":"transparent","symbolStrokeColor":"#d5d5d5","symbolStrokeWidth":1,"symbolOpacity":1}}}},
{"data":{"values":[{"x":-7.54,"x2":12.4,"y":-10.9,"y2":257.8}]},"mark":{"type":"rect","fillOpacity":0,"stroke":"#808080","strokeWidth":1.3},"encoding":{"x2":{"field":"x2"},"y2":{"field":"y2"}}},
{"data":{"values":[{"x":1.9,"y":281.3,"t":"WT vs Pat-KO"}]},"mark":{"type":"text"},"encoding":{"text":{"field":"t"}}}
]},
{"encoding":{"x":{"field":"x","type":"quantitative","scale":{"domain":[-7.08,8.2],"range":[565.7,724.3],"nice":false,"zero":false},"axis":{"orient":"bottom","offset":-630,"values":[-4,0,4,8],"title":"log2(FC)"}},"y":{"field":"y","type":"quantitative","scale":{"domain":[-3.5,73.8],"range":[218,24],"nice":false,"zero":false},"axis":{"orient":"left","offset":-565.7,"values":[0,20,40,60],"title":"-log10(PValue)"}}},
"layer":[
{"data":{"values":[{"x":-0.67,"x2":-0.67,"y":-3.5,"y2":73.8},{"x":0.55,"x2":0.55,"y":-3.5,"y2":73.8},{"x":-7.08,"x2":8.2,"y":1.2,"y2":1.2}]},"mark":{"type":"rule","color":"#bdbdbd","strokeDash":[2,2],"strokeWidth":1},"encoding":{"x2":{"field":"x2"},"y2":{"field":"y2"}}},
{"data":{"name":"v3"},"mark":{"type":"point","filled":true,"size":2,"opacity":0.8},"encoding":{"color":{"field":"s","type":"nominal","scale":{"domain":["Up","Down","Normal"],"range":["#ff2e2e","#00d040","#000000"]},"legend":{"title":"Significant","legendX":727.3,"legendY":85.5,"symbolType":"M-0.25,-0.25H0.25V0.25H-0.25Z","symbolSize":132,"symbolStrokeWidth":0,"symbolOpacity":1}}}},
{"data":{"name":"keys"},"mark":{"type":"point","size":0,"opacity":0},"encoding":{"shape":{"field":"k","type":"nominal","scale":{"domain":["k1","k2","k3"],"range":["square","square","square"]},"legend":{"title":null,"labelExpr":"''","legendX":727.3,"legendY":99,"symbolSize":132,"symbolFillColor":"transparent","symbolStrokeColor":"#d5d5d5","symbolStrokeWidth":1,"symbolOpacity":1}}}},
{"data":{"values":[{"x":-7.08,"x2":8.2,"y":-3.5,"y2":73.8}]},"mark":{"type":"rect","fillOpacity":0,"stroke":"#808080","strokeWidth":1.3},"encoding":{"x2":{"field":"x2"},"y2":{"field":"y2"}}},
{"data":{"values":[{"x":0.38,"y":79,"t":"WT vs Homo-KO"}]},"mark":{"type":"text"},"encoding":{"text":{"field":"t"}}}
]},
{"encoding":{"x":{"field":"x","type":"quantitative","scale":{"domain":[-4.98,17],"range":[65.7,217.3],"nice":false,"zero":false},"axis":{"orient":"bottom","offset":-407,"values":[0,5,10,15],"title":"log2(TPM)"}},"y":{"field":"y","type":"quantitative","scale":{"domain":[-7.53,7.56],"range":[441,258.7],"nice":false,"zero":false},"axis":{"orient":"left","offset":-65.7,"values":[-4,0,4],"title":"log2(FC)"}}},
"layer":[
{"data":{"name":"m1"},"mark":{"type":"point","filled":true,"size":2,"opacity":0.8},"encoding":{"color":{"field":"s","type":"nominal","scale":{"domain":["Up","Down","Normal"],"range":["#ff2e2e","#00d040","#000000"]},"legend":{"title":"Significant","legendX":229.3,"legendY":317.2,"symbolType":"M-0.25,-0.25H0.25V0.25H-0.25Z","symbolSize":132,"symbolStrokeWidth":0,"symbolOpacity":1}}}},
{"data":{"name":"keys"},"mark":{"type":"point","size":0,"opacity":0},"encoding":{"shape":{"field":"k","type":"nominal","scale":{"domain":["k1","k2","k3"],"range":["square","square","square"]},"legend":{"title":null,"labelExpr":"''","legendX":229.3,"legendY":330.7,"symbolSize":132,"symbolFillColor":"transparent","symbolStrokeColor":"#d5d5d5","symbolStrokeWidth":1,"symbolOpacity":1}}}},
{"data":{"values":[{"x":-4.98,"x2":17,"y":-7.53,"y2":7.56}]},"mark":{"type":"rect","fillOpacity":0,"stroke":"#808080","strokeWidth":1.3},"encoding":{"x2":{"field":"x2"},"y2":{"field":"y2"}}},
{"data":{"values":[{"x":-13.35,"y":7.39,"t":"B"}]},"mark":{"type":"text"},"encoding":{"text":{"field":"t"}}},
{"data":{"values":[{"x":-12.34,"y":0.25,"t":"MA plot"}]},"mark":{"type":"text","angle":270},"encoding":{"text":{"field":"t"}}}
]},
{"encoding":{"x":{"field":"x","type":"quantitative","scale":{"domain":[-4.78,16.97],"range":[325.7,476],"nice":false,"zero":false},"axis":{"orient":"bottom","offset":-410.3,"values":[0,5,10,15],"title":"log2(TPM)"}},"y":{"field":"y","type":"quantitative","scale":{"domain":[-7.5,12.7],"range":[437.7,255.3],"nice":false,"zero":false},"axis":{"orient":"left","offset":-325.7,"values":[-4,0,4,8,12],"title":"log2(FC)"}}},
"layer":[
{"data":{"name":"m2"},"mark":{"type":"point","filled":true,"size":2,"opacity":0.8},"encoding":{"color":{"field":"s","type":"nominal","scale":{"domain":["Up","Down","Normal"],"range":["#ff2e2e","#00d040","#000000"]},"legend":{"title":"Significant","legendX":481.7,"legendY":318.8,"symbolType":"M-0.25,-0.25H0.25V0.25H-0.25Z","symbolSize":132,"symbolStrokeWidth":0,"symbolOpacity":1}}}},
{"data":{"name":"keys"},"mark":{"type":"point","size":0,"opacity":0},"encoding":{"shape":{"field":"k","type":"nominal","scale":{"domain":["k1","k2","k3"],"range":["square","square","square"]},"legend":{"title":null,"labelExpr":"''","legendX":481.7,"legendY":332.3,"symbolSize":132,"symbolFillColor":"transparent","symbolStrokeColor":"#d5d5d5","symbolStrokeWidth":1,"symbolOpacity":1}}}},
{"data":{"values":[{"x":-4.78,"x2":16.97,"y":-7.5,"y2":12.7}]},"mark":{"type":"rect","fillOpacity":0,"stroke":"#808080","strokeWidth":1.3},"encoding":{"x2":{"field":"x2"},"y2":{"field":"y2"}}}
]},
{"encoding":{"x":{"field":"x","type":"quantitative","scale":{"domain":[-5,17.1],"range":[569.3,722.3],"nice":false,"zero":false},"axis":{"orient":"bottom","offset":-405,"values":[0,5,10,15],"title":"log2(TPM)"}},"y":{"field":"y","type":"quantitative","scale":{"domain":[-7.07,8.2],"range":[443,258.7],"nice":false,"zero":false},"axis":{"orient":"left","offset":-569.3,"values":[-4,0,4,8],"title":"log2(FC)"}}},
"layer":[
{"data":{"name":"m3"},"mark":{"type":"point","filled":true,"size":2,"opacity":0.8},"encoding":{"color":{"field":"s","type":"nominal","scale":{"domain":["Up","Down","Normal"],"range":["#ff2e2e","#00d040","#000000"]},"legend":{"title":"Significant","legendX":728.3,"legendY":314.8,"symbolType":"M-0.25,-0.25H0.25V0.25H-0.25Z","symbolSize":132,"symbolStrokeWidth":0,"symbolOpacity":1}}}},
{"data":{"name":"keys"},"mark":{"type":"point","size":0,"opacity":0},"encoding":{"shape":{"field":"k","type":"nominal","scale":{"domain":["k1","k2","k3"],"range":["square","square","square"]},"legend":{"title":null,"labelExpr":"''","legendX":728.3,"legendY":328.3,"symbolSize":132,"symbolFillColor":"transparent","symbolStrokeColor":"#d5d5d5","symbolStrokeWidth":1,"symbolOpacity":1}}}},
{"data":{"values":[{"x":-5,"x2":17.1,"y":-7.07,"y2":8.2}]},"mark":{"type":"rect","fillOpacity":0,"stroke":"#808080","strokeWidth":1.3},"encoding":{"x2":{"field":"x2"},"y2":{"field":"y2"}}}
]},
{"data":{"name":"pu1"},"mark":{"type":"arc","outerRadius":71.3,"stroke":"#ffffff","strokeWidth":1},"encoding":{"theta":{"field":"v","type":"quantitative","stack":true},"order":{"field":"c","type":"quantitative"},"color":{"field":"c","type":"nominal","legend":null},"x":{"datum":"c","type":"nominal","scale":{"domain":["c"],"range":[140.7,140.7]},"axis":null},"y":{"datum":"c","type":"nominal","scale":{"domain":["c"],"range":[548,548]},"axis":null}}},
{"data":{"name":"pd1"},"mark":{"type":"arc","outerRadius":71.3,"stroke":"#ffffff","strokeWidth":1},"encoding":{"theta":{"field":"v","type":"quantitative","stack":true},"order":{"field":"c","type":"quantitative"},"color":{"field":"c","type":"nominal","legend":null},"x":{"datum":"c","type":"nominal","scale":{"domain":["c"],"range":[140.7,140.7]},"axis":null},"y":{"datum":"c","type":"nominal","scale":{"domain":["c"],"range":[700,700]},"axis":null}}},
{"data":{"name":"pu2"},"mark":{"type":"arc","outerRadius":71.2,"stroke":"#ffffff","strokeWidth":1},"encoding":{"theta":{"field":"v","type":"quantitative","stack":true},"order":{"field":"c","type":"quantitative"},"color":{"field":"c","type":"nominal","legend":null},"x":{"datum":"c","type":"nominal","scale":{"domain":["c"],"range":[401.7,401.7]},"axis":null},"y":{"datum":"c","type":"nominal","scale":{"domain":["c"],"range":[546,546]},"axis":null}}},
{"data":{"name":"pd2"},"mark":{"type":"arc","outerRadius":69.8,"stroke":"#ffffff","strokeWidth":1},"encoding":{"theta":{"field":"v","type":"quantitative","stack":true},"order":{"field":"c","type":"quantitative"},"color":{"field":"c","type":"nominal","legend":null},"x":{"datum":"c","type":"nominal","scale":{"domain":["c"],"range":[400.7,400.7]},"axis":null},"y":{"datum":"c","type":"nominal","scale":{"domain":["c"],"range":[698,698]},"axis":null}}},
{"data":{"name":"pu3"},"mark":{"type":"arc","outerRadius":71.2,"stroke":"#ffffff","strokeWidth":1},"encoding":{"theta":{"field":"v","type":"quantitative","stack":true},"order":{"field":"c","type":"quantitative"},"color":{"field":"c","type":"nominal","legend":null},"x":{"datum":"c","type":"nominal","scale":{"domain":["c"],"range":[645.7,645.7]},"axis":null},"y":{"datum":"c","type":"nominal","scale":{"domain":["c"],"range":[547,547]},"axis":null}}},
{"data":{"name":"pd3"},"mark":{"type":"arc","outerRadius":71.7,"stroke":"#ffffff","strokeWidth":1},"encoding":{"theta":{"field":"v","type":"quantitative","stack":true},"order":{"field":"c","type":"quantitative"},"color":{"field":"c","type":"nominal","legend":null},"x":{"datum":"c","type":"nominal","scale":{"domain":["c"],"range":[645,645]},"axis":null},"y":{"datum":"c","type":"nominal","scale":{"domain":["c"],"range":[700.7,700.7]},"axis":null}}},
{"data":{"values":[{"x":-0.595,"y":-0.29,"t":"22%"}]},"mark":{"type":"text","color":"#ffffff"},"encoding":{"text":{"field":"t"},"x":{"field":"x","type":"quantitative","scale":{"domain":[-1,1],"range":[69.4,212],"nice":false,"zero":false},"axis":null},"y":{"field":"y","type":"quantitative","scale":{"domain":[-1,1],"range":[619.3,476.7],"nice":false,"zero":false},"axis":null}}},
{"data":{"values":[{"x":-0.557,"y":-0.463,"t":"13%"}]},"mark":{"type":"text","color":"#ffffff"},"encoding":{"text":{"field":"t"},"x":{"field":"x","type":"quantitative","scale":{"domain":[-1,1],"range":[69.4,212],"nice":false,"zero":false},"axis":null},"y":{"field":"y","type":"quantitative","scale":{"domain":[-1,1],"range":[771.3,628.7],"nice":false,"zero":false},"axis":null}}},
{"data":{"values":[{"x":-0.666,"y":-0.291,"t":"11%"}]},"mark":{"type":"text","color":"#ffffff"},"encoding":{"text":{"field":"t"},"x":{"field":"x","type":"quantitative","scale":{"domain":[-1,1],"range":[330.5,472.9],"nice":false,"zero":false},"axis":null},"y":{"field":"y","type":"quantitative","scale":{"domain":[-1,1],"range":[617.2,474.8],"nice":false,"zero":false},"axis":null}}},
{"data":{"values":[{"x":-0.665,"y":-0.372,"t":"13%"}]},"mark":{"type":"text","color":"#ffffff"},"encoding":{"text":{"field":"t"},"x":{"field":"x","type":"quantitative","scale":{"domain":[-1,1],"range":[330.9,470.5],"nice":false,"zero":false},"axis":null},"y":{"field":"y","type":"quantitative","scale":{"domain":[-1,1],"range":[767.8,628.2],"nice":false,"zero":false},"axis":null}}},
{"data":{"values":[{"x":-0.539,"y":-0.291,"t":"21%"}]},"mark":{"type":"text","color":"#ffffff"},"encoding":{"text":{"field":"t"},"x":{"field":"x","type":"quantitative","scale":{"domain":[-1,1],"range":[574.5,716.9],"nice":false,"zero":false},"axis":null},"y":{"field":"y","type":"quantitative","scale":{"domain":[-1,1],"range":[618.2,475.8],"nice":false,"zero":false},"axis":null}}},
{"data":{"values":[{"x":-0.4,"y":-0.51,"t":"18%"}]},"mark":{"type":"text","color":"#ffffff"},"encoding":{"text":{"field":"t"},"x":{"field":"x","type":"quantitative","scale":{"domain":[-1,1],"range":[573.3,716.7],"nice":false,"zero":false},"axis":null},"y":{"field":"y","type":"quantitative","scale":{"domain":[-1,1],"range":[772.4,629],"nice":false,"zero":false},"axis":null}}},
{"data":{"values":[{"x":-1.861,"y":0.84,"t":"C"},{"x":-1.454,"y":-0.014,"t":"Up"},{"x":-1.342,"y":-2.087,"t":"Down"}]},"mark":{"type":"text"},"encoding":{"text":{"field":"t"},"x":{"field":"x","type":"quantitative","scale":{"domain":[-1,1],"range":[69.4,212],"nice":false,"zero":false},"axis":null},"y":{"field":"y","type":"quantitative","scale":{"domain":[-1,1],"range":[619.3,476.7],"nice":false,"zero":false},"axis":null}}},
{"encoding":{"x":{"field":"x","type":"quantitative","scale":{"domain":[1,11],"range":[141.5,715.5],"nice":false,"zero":false},"axis":null},"y":{"field":"y","type":"quantitative","scale":{"domain":[1,2],"range":[791,825],"nice":false,"zero":false},"axis":null}},
"layer":[
{"data":{"values":[{"c":1,"x":1,"y":1},{"c":2,"x":2,"y":1},{"c":3,"x":3,"y":1},{"c":4,"x":4,"y":1},{"c":5,"x":5,"y":1},{"c":6,"x":6,"y":1},{"c":7,"x":7,"y":1},{"c":8,"x":8,"y":1},{"c":9,"x":9,"y":1},{"c":10,"x":10,"y":1},{"c":11,"x":0.97,"y":2},{"c":12,"x":1.98,"y":2},{"c":13,"x":2.99,"y":2},{"c":14,"x":4,"y":2},{"c":15,"x":5,"y":2},{"c":16,"x":6.01,"y":2},{"c":17,"x":7.02,"y":2},{"c":18,"x":8.03,"y":2},{"c":19,"x":9.02,"y":2},{"c":20,"x":10.03,"y":2}]},"mark":{"type":"point","shape":"square","filled":true,"size":81,"opacity":1},"encoding":{"color":{"field":"c","type":"nominal","legend":null}}},
{"data":{"values":[{"x":1.49,"y":1,"t":"1"},{"x":2.49,"y":1,"t":"2"},{"x":3.49,"y":1,"t":"3"},{"x":4.49,"y":1,"t":"4"},{"x":5.49,"y":1,"t":"5"},{"x":6.49,"y":1,"t":"6"},{"x":7.49,"y":1,"t":"7"},{"x":8.49,"y":1,"t":"8"},{"x":9.49,"y":1,"t":"9"},{"x":10.49,"y":1,"t":"10"},{"x":1.52,"y":2.09,"t":"11"},{"x":2.54,"y":2.09,"t":"12"},{"x":3.55,"y":2.09,"t":"13"},{"x":4.55,"y":2.09,"t":"14"},{"x":5.56,"y":2.09,"t":"15"},{"x":6.56,"y":2.09,"t":"16"},{"x":7.56,"y":2.09,"t":"17"},{"x":8.57,"y":2.09,"t":"18"},{"x":9.58,"y":2.09,"t":"19"},{"x":10.54,"y":2.09,"t":"X"},{"x":-0.246,"y":1.44,"t":"chromosomes"},{"x":-0.246,"y":1.9,"t":"1-X"}]},"mark":{"type":"text","fontSize":13},"encoding":{"text":{"field":"t"}}},
{"data":{"values":[{"x":1.82,"x2":2.78,"y":1.58,"y2":2.53}]},"mark":{"type":"rect","fillOpacity":0,"stroke":"#ee4444","strokeWidth":1},"encoding":{"x2":{"field":"x2"},"y2":{"field":"y2"}}}
]}
],
"resolve":{"scale":{"x":"independent","y":"independent","color":"independent","theta":"independent","shape":"independent"},"axis":{"x":"independent","y":"independent"},"legend":{"color":"independent","shape":"independent"}}}
